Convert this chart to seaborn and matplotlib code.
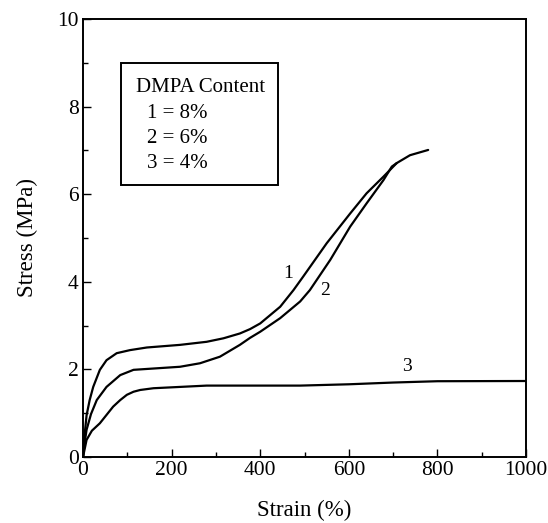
import numpy as np
import pandas as pd
import seaborn as sns
import matplotlib
matplotlib.use("Agg")
import matplotlib.pyplot as plt
from matplotlib.ticker import MultipleLocator
from matplotlib.patches import Rectangle

# Curve 1 (8% DMPA)
strain1 = [0, 3, 8, 15, 23, 38, 53, 76, 106, 144, 219, 279, 317, 354, 377, 400, 445, 475, 497, 550, 603, 640, 678, 708, 738, 779]
stress1 = [0, 0.45, 0.95, 1.3, 1.6, 1.99, 2.21, 2.37, 2.44, 2.5, 2.56, 2.63, 2.71, 2.82, 2.92, 3.05, 3.43, 3.81, 4.12, 4.88, 5.56, 6.02, 6.4, 6.71, 6.89, 7.01]
# Curve 2 (6% DMPA)
strain2 = [0, 3, 8, 18, 31, 53, 84, 114, 159, 219, 264, 309, 354, 377, 400, 445, 490, 512, 558, 603, 640, 678, 697, 708]
stress2 = [0, 0.28, 0.62, 0.98, 1.3, 1.6, 1.87, 1.99, 2.02, 2.06, 2.14, 2.29, 2.56, 2.72, 2.86, 3.17, 3.55, 3.81, 4.5, 5.26, 5.79, 6.32, 6.63, 6.71]
# Curve 3 (4% DMPA)
strain3 = [0, 8, 20, 38, 53, 68, 84, 99, 114, 129, 159, 219, 279, 490, 600, 700, 800, 1000]
stress3 = [0, 0.39, 0.6, 0.77, 0.96, 1.15, 1.3, 1.42, 1.49, 1.53, 1.57, 1.6, 1.63, 1.63, 1.66, 1.7, 1.73, 1.735]

curve_labels = ["1", "2", "3"]
label_x = [463, 546, 731]
label_y = [4.19, 3.81, 2.06]

legend_title = "DMPA Content"
legend_lines = ["1 = 8%", "2 = 6%", "3 = 4%"]

xticks = [0, 200, 400, 600, 800, 1000]
yticks = [0, 2, 4, 6, 8, 10]

sns.set_theme(style="white")
plt.rcParams['font.family'] = ['Liberation Serif', 'DejaVu Serif']
plt.rcParams['text.color'] = 'black'
plt.rcParams['axes.labelcolor'] = 'black'
plt.rcParams['xtick.color'] = 'black'
plt.rcParams['ytick.color'] = 'black'

fig = plt.figure(figsize=(5.48, 5.23), dpi=100)
ax = fig.add_axes([0.1515, 0.1262, 0.8085, 0.8375])

df = pd.concat([
    pd.DataFrame({"strain": strain1, "stress": stress1, "curve": "1"}),
    pd.DataFrame({"strain": strain2, "stress": stress2, "curve": "2"}),
    pd.DataFrame({"strain": strain3, "stress": stress3, "curve": "3"}),
])
sns.lineplot(data=df, x="strain", y="stress", hue="curve", sort=False,
             palette=["black", "black", "black"], linewidth=1.6, ax=ax, legend=False)

for lab, lx, ly in zip(curve_labels, label_x, label_y):
    ax.text(lx, ly, lab, fontsize=14, ha="center", va="center", color="black")

ax.set_xlim(0, 1000)
ax.set_ylim(0, 10)
ax.set_xticks(xticks)
ax.set_yticks(yticks)
ax.xaxis.set_minor_locator(MultipleLocator(100))
ax.yaxis.set_minor_locator(MultipleLocator(1))
ax.tick_params(axis="both", which="major", direction="in", length=6, width=1,
               labelsize=15.5, colors="black", labelcolor="black",
               bottom=True, left=True, top=False, right=False, pad=3)
ax.tick_params(axis="both", which="minor", direction="in", length=3.5, width=1,
               bottom=True, left=True, top=False, right=False)
for s in ax.spines.values():
    s.set_color("black")
    s.set_linewidth(1.4)

ax.set_xlabel("Strain (%)", fontsize=16.5, labelpad=14, color="black")
ax.set_ylabel("Stress (MPa)", fontsize=16.5, labelpad=14, color="black")

# Legend box
ax.add_patch(Rectangle((85, 6.2), 356, 2.8, fill=False, edgecolor="black", linewidth=1.4, zorder=3))
ax.text(119, 8.44, legend_title, fontsize=15, ha="left", va="center", color="black")
for i, t in enumerate(legend_lines):
    ax.text(144, 7.85 - i * 0.57, t, fontsize=15, ha="left", va="center", color="black")

fig.savefig("out.png", dpi=100)
